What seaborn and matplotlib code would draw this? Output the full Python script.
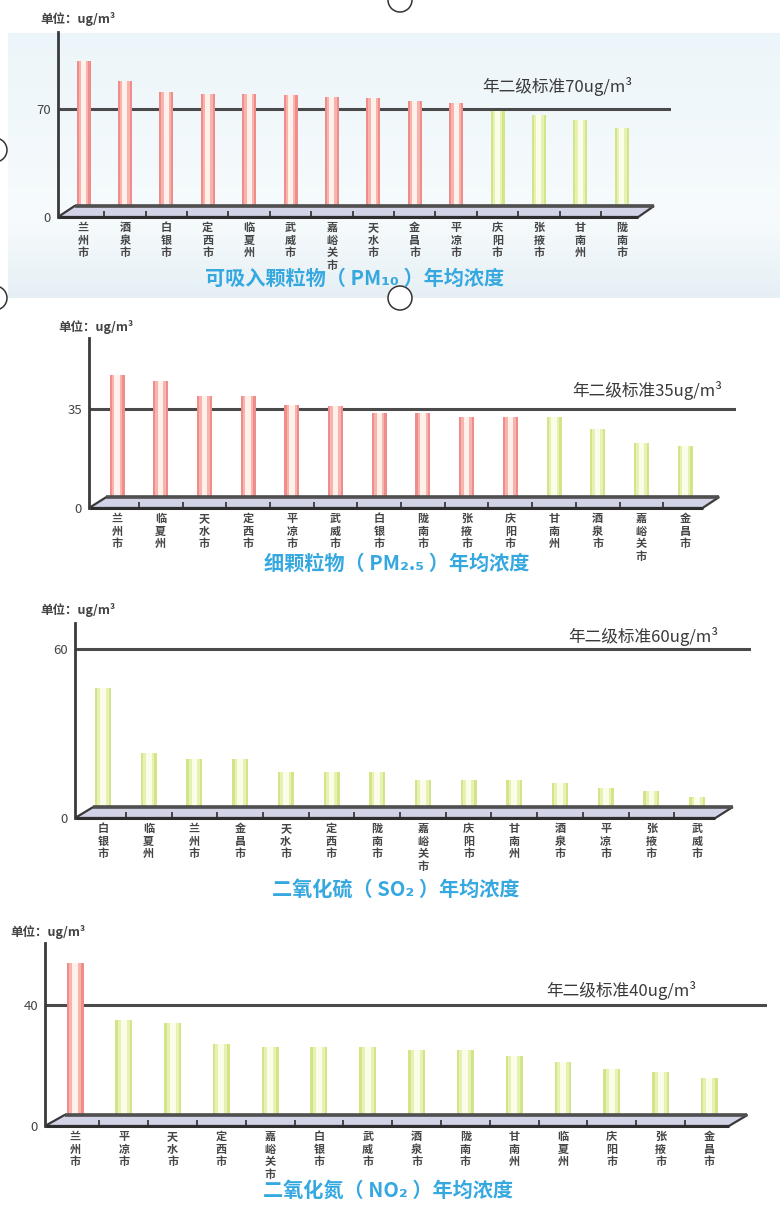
import numpy as np
import pandas as pd
import matplotlib
matplotlib.use("Agg")
import matplotlib.pyplot as plt
from matplotlib.patches import Polygon, Circle
import seaborn as sns

# ---- data (ug/m3, annual mean by city) ----
pm10_cities = ["兰州市", "酒泉市", "白银市", "定西市", "临夏州", "武威市", "嘉峪关市",
               "天水市", "金昌市", "平凉市", "庆阳市", "张掖市", "甘南州", "陇南市"]
pm10_values = [101, 88, 81, 80, 80, 79, 78, 77, 75, 74, 69, 66, 63, 58]
pm10_exceeds = [1, 1, 1, 1, 1, 1, 1, 1, 1, 1, 0, 0, 0, 0]

pm25_cities = ["兰州市", "临夏州", "天水市", "定西市", "平凉市", "武威市", "白银市",
               "陇南市", "张掖市", "庆阳市", "甘南州", "酒泉市", "嘉峪关市", "金昌市"]
pm25_values = [47, 45, 39.5, 39.5, 36.5, 36, 33.5, 33.5, 32, 32, 32, 28, 23, 22]
pm25_exceeds = [1, 1, 1, 1, 1, 1, 1, 1, 1, 1, 0, 0, 0, 0]

so2_cities = ["白银市", "临夏州", "兰州市", "金昌市", "天水市", "定西市", "陇南市",
              "嘉峪关市", "庆阳市", "甘南州", "酒泉市", "平凉市", "张掖市", "武威市"]
so2_values = [46, 23, 21, 21, 16.5, 16.5, 16.5, 13.5, 13.5, 13.5, 12.5, 10.5, 9.5, 7.5]
so2_exceeds = [0] * 14

no2_cities = ["兰州市", "平凉市", "天水市", "定西市", "嘉峪关市", "白银市", "武威市",
              "酒泉市", "陇南市", "甘南州", "临夏州", "庆阳市", "张掖市", "金昌市"]
no2_values = [54, 35, 34, 27, 26, 26, 26, 25, 25, 23, 21, 19, 18, 16]
no2_exceeds = [1] + [0] * 13

standards = [70, 35, 60, 40]
titles = ["可吸入颗粒物（ PM₁₀ ）年均浓度",
          "细颗粒物（ PM₂.₅ ）年均浓度",
          "二氧化硫（ SO₂ ）年均浓度",
          "二氧化氮（ NO₂ ）年均浓度"]
unit_label = "单位：ug/m³"

# ---- styling ----
sns.set_theme(style="white")
plt.rcParams["font.family"] = ["Noto Sans CJK SC", "DejaVu Sans"]

W, H = 780, 1207
fig = plt.figure(figsize=(W / 100, H / 100), dpi=100)

# background layer in pixel coordinates
bg = fig.add_axes([0, 0, 1, 1], zorder=-10)
bg.set_xlim(0, W)
bg.set_ylim(H, 0)
bg.axis("off")
grad = np.linspace(0, 1, 256)[:, None]
top_c = np.array([0.925, 0.962, 0.978])
mid_c = np.array([0.968, 0.984, 0.990])
bot_c = np.array([0.900, 0.940, 0.958])
rows = np.where(grad < 0.7,
                top_c + (mid_c - top_c) * (grad / 0.7),
                mid_c + (bot_c - mid_c) * ((grad - 0.7) / 0.3))
img = np.repeat(rows[:, None, :], 4, axis=1).reshape(256, 4, 3)
bg.imshow(img, extent=(8, W, 298, 33), aspect="auto", interpolation="bilinear")
for (cx, cy, r, fc) in [(400, 0, 12, "white"), (400, 298, 12, "white"),
                        (-5, 150, 12, "none"), (-5, 298, 12, "none")]:
    bg.add_patch(Circle((cx, cy), r, facecolor=fc, edgecolor="#333333", lw=1.1))

RED_OUT, RED_MID, RED_IN = "#f08c8a", "#f7b4ae", "#fff0ea"
GRN_OUT, GRN_MID, GRN_IN = "#d3e687", "#e6f1b4", "#fbfde9"

# layout of each panel in pixels
layout = [
    dict(left=58, right=671, y0=217, ytop=32, ystd=109, cx0=83.5, step=41.4, barw=14,
         unit=(40, 19), stdtxt=(557, 87), title=(355, 278)),
    dict(left=89, right=736, y0=508, ytop=338, ystd=409, cx0=117, step=43.7, barw=15,
         unit=(58, 327), stdtxt=(647, 390), title=(397, 563)),
    dict(left=75, right=751, y0=818, ytop=623, ystd=649, cx0=103, step=45.7, barw=16,
         unit=(40, 610), stdtxt=(643, 637), title=(396, 889)),
    dict(left=45, right=767, y0=1126, ytop=943, ystd=1005, cx0=75, step=48.8, barw=17,
         unit=(10, 932), stdtxt=(621, 991), title=(388, 1190)),
]

datasets = [
    (pm10_cities, pm10_values, pm10_exceeds),
    (pm25_cities, pm25_values, pm25_exceeds),
    (so2_cities, so2_values, so2_exceeds),
    (no2_cities, no2_values, no2_exceeds),
]

for (cities, values, exceeds), std, title, L in zip(datasets, standards, titles, layout):
    df = pd.DataFrame({"city": cities, "value": values,
                       "status": ["over" if e else "ok" for e in exceeds]})
    rect = [L["left"] / W, 1 - L["y0"] / H,
            (L["right"] - L["left"]) / W, (L["y0"] - L["ytop"]) / H]
    ax = fig.add_axes(rect)
    ax.set_facecolor("none")

    width = L["barw"] / L["step"]
    # cylinder shading: darker rim, softer body, pale highlight in the centre
    for frac, pal, z in [(1.0, {"over": RED_OUT, "ok": GRN_OUT}, 1.5),
                         (0.70, {"over": RED_MID, "ok": GRN_MID}, 1.55),
                         (0.36, {"over": RED_IN, "ok": GRN_IN}, 1.6)]:
        sns.barplot(data=df, x="city", y="value", hue="status", order=cities,
                    palette=pal, dodge=False, width=width * frac, legend=False,
                    ax=ax, zorder=z, saturation=1, linewidth=0)

    ymax = std * (L["y0"] - L["ytop"]) / (L["y0"] - L["ystd"])
    xl = (L["left"] - L["cx0"]) / L["step"]
    xr = (L["right"] - L["cx0"]) / L["step"]
    ax.set_xlim(xl, xr)
    ax.set_ylim(0, ymax)

    # standard line, behind the bars
    ax.axhline(std, color="#4a4a4a", lw=2.2, zorder=1.2)

    # floor slab
    depth = 11 * ymax / (L["y0"] - L["ytop"])
    floor = Polygon([(xl, 0), (13.4, 0), (13.78, depth), (xl + 0.4, depth)],
                    closed=True, facecolor="#d3d3e8", edgecolor="#3a3a3a",
                    lw=1.6, zorder=1.8, clip_on=False)
    ax.add_patch(floor)
    ax.plot([xl + 0.4, 13.78], [depth, depth], color="#505050", lw=2.6,
            zorder=1.85, clip_on=False, solid_capstyle="butt")
    ax.plot([xl, 13.4], [0, 0], color="#2e2e2e", lw=2.2, zorder=1.85,
            clip_on=False, solid_capstyle="butt")

    # axes styling
    for s in ["top", "right", "bottom"]:
        ax.spines[s].set_visible(False)
    ax.spines["left"].set_color("#3a3a3a")
    ax.spines["left"].set_linewidth(2)
    ax.set_axisbelow(False)
    ax.set_yticks([0, std])
    ax.set_yticklabels(["0", str(std)], fontsize=9.5, color="#444444")
    ax.tick_params(axis="y", direction="out", length=3, width=1.2, color="#3a3a3a", pad=2)
    ax.set_xticks(range(len(cities)))
    ax.set_xticklabels(["\n".join(c) for c in cities], fontsize=8, color="#454545",
                       linespacing=0.95, fontweight="bold")
    ax.set_xticks([i + 0.5 for i in range(len(cities) - 1)], minor=True)
    ax.tick_params(axis="x", which="major", length=0, pad=3)
    ax.tick_params(axis="x", which="minor", direction="in", length=4, width=1.2,
                   color="#2e2e2e", bottom=True)
    ax.set_xlabel("")
    ax.set_ylabel("")

    # annotations
    fig.text(L["unit"][0] / W, 1 - L["unit"][1] / H, unit_label, fontsize=9,
             color="#444444", ha="left", va="center", fontweight="bold")
    fig.text(L["stdtxt"][0] / W, 1 - L["stdtxt"][1] / H, f"年二级标准{std}ug/m³",
             fontsize=12, color="#3a3a3a", ha="center", va="center")
    fig.text(L["title"][0] / W, 1 - L["title"][1] / H, title, fontsize=14.5,
             color="#36a8e0", ha="center", va="center", fontweight="bold")

fig.savefig("out.png", dpi=100)
